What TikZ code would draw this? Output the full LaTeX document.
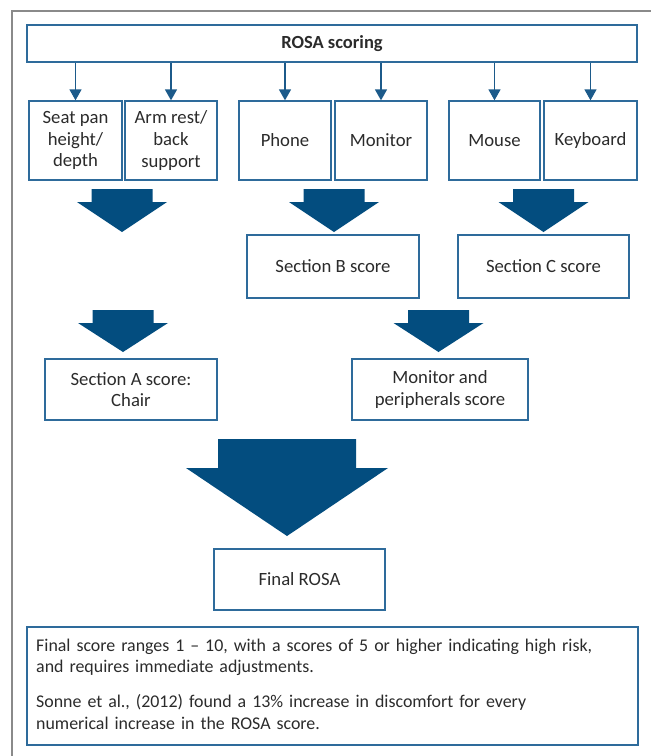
\documentclass[tikz,border=0pt]{standalone}
\usepackage{fontspec}
\setmainfont{Carlito}
\usetikzlibrary{arrows.meta}
\definecolor{arrowblue}{HTML}{034D7F}
\definecolor{boxblue}{HTML}{2E6B9B}
\definecolor{connblue}{HTML}{1C5A8A}
\definecolor{txt}{HTML}{2B2B2B}
\definecolor{framegray}{HTML}{8A8A8A}
\newcommand{\blockarrow}[6]{% cx, top, half shaft, shaft h, half head, head h
  \fill[arrowblue] ({#1-#3},#2) -- ({#1+#3},#2) -- ({#1+#3},{#2+#4}) -- ({#1+#5},{#2+#4})
    -- (#1,{#2+#4+#6}) -- ({#1-#5},{#2+#4}) -- ({#1-#3},{#2+#4}) -- cycle;}
\begin{document}
\begin{tikzpicture}[x=1pt,y=-1pt,
  box/.style={draw=boxblue, line width=1.3pt, text=txt, font=\fontsize{18.7}{21.7}\selectfont, align=center, inner sep=0pt},
  conn/.style={draw=connblue, line width=1.4pt, -{Triangle[width=12pt,length=11pt]}}]
\useasboundingbox (0,0) rectangle (651,756);
\draw[framegray, line width=1.8pt] (12,800) -- (12,11) -- (700,11);

\node[box, minimum width=610pt, minimum height=37pt, font=\fontsize{18.5}{21}\selectfont\bfseries] (rosa) at (332,43.5) {ROSA scoring};

\node[box, minimum width=93pt, minimum height=79pt] (seat) at (75.5,140.5) {Seat pan\\height/\\depth};
\node[box, minimum width=92pt, minimum height=79pt] (arm) at (171,140.5) {Arm rest/\\back\\support};
\node[box, minimum width=92pt, minimum height=79pt] (phone) at (285,140.5) {Phone};
\node[box, minimum width=92pt, minimum height=79pt] (monitor) at (381,140.5) {Monitor};
\node[box, minimum width=91pt, minimum height=79pt] (mouse) at (494.5,140.5) {Mouse};
\node[box, minimum width=93pt, minimum height=79pt] (keyboard) at (590.5,140.5) {Keyboard};

\node[box, minimum width=172pt, minimum height=63pt] (secB) at (333,266.5) {Section B score};
\node[box, minimum width=171pt, minimum height=63pt] (secC) at (543.5,266.5) {Section C score};

\node[box, minimum width=172pt, minimum height=61pt] (secA) at (131,389.5) {Section A score:\\Chair};
\node[box, minimum width=176pt, minimum height=61pt] (monperi) at (440,389.5) {Monitor and\\peripherals score};

\node[box, minimum width=171pt, minimum height=61pt] (final) at (299.5,579.5) {Final ROSA};

\node[box, minimum width=611pt, minimum height=118pt] (note) at (332.5,686) {};
\node[text=txt, font=\fontsize{17.9}{21.8}\selectfont, align=left, anchor=north west, inner sep=0pt, text width=600pt] (notetext) at (36,638.5)
  {Final score ranges 1 -- 10, with a scores of 5 or higher indicating high risk,\\and requires immediate adjustments.\\[13pt]
   Sonne et al., (2012) found a 13\% increase in discomfort for every\\numerical increase in the ROSA score.};

\foreach \n in {seat,arm,phone,monitor,mouse,keyboard}
  \draw[conn] (rosa.south -| \n) -- (\n.north);

\blockarrow{122}{189}{30.5}{13}{45}{30}
\blockarrow{334}{189}{30.5}{13}{45}{30}
\blockarrow{543.5}{189}{30.5}{13}{45}{30}
\blockarrow{123}{310}{30.5}{13}{45}{29}
\blockarrow{438.5}{310}{30.5}{13}{45}{29}
\blockarrow{287}{439}{69}{29}{101}{68}
\end{tikzpicture}
\end{document}
